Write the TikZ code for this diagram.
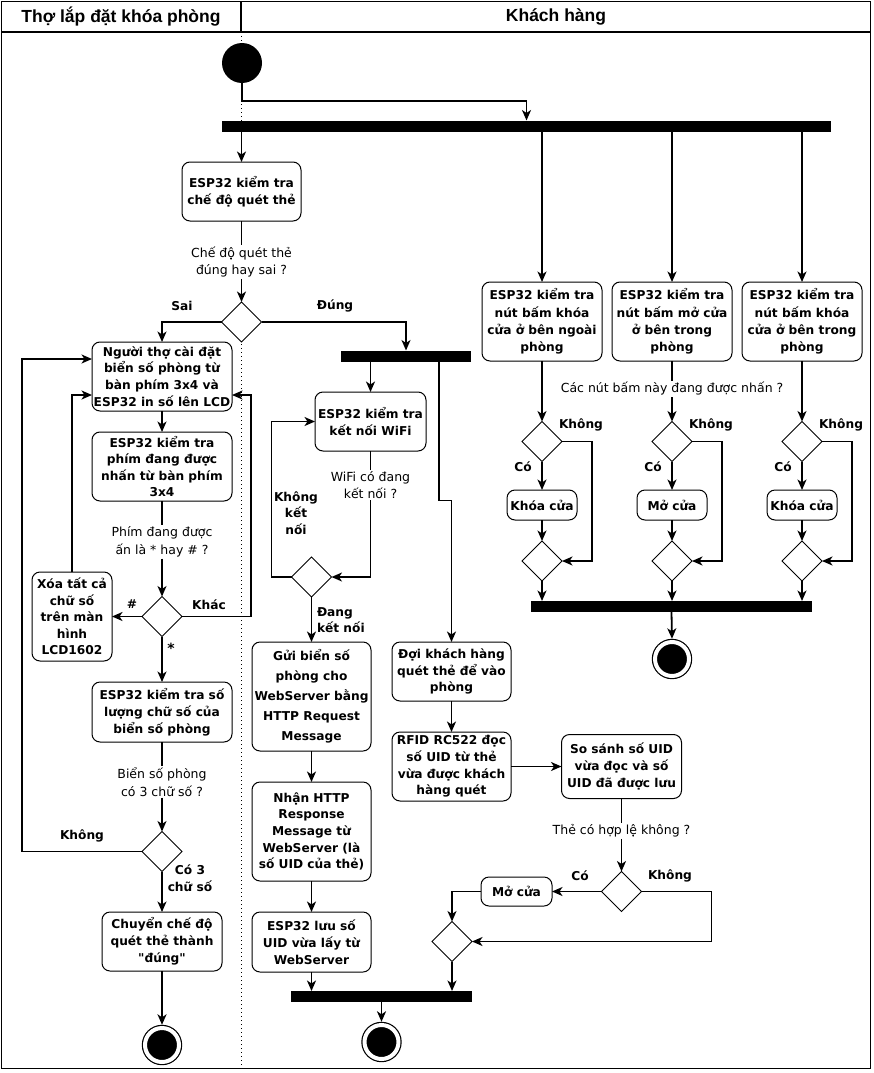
\documentclass[tikz,border=0pt]{standalone}
\usepackage{fontspec}
\setmainfont{DejaVu Sans}[Ligatures=TeXOff]
\newfontfamily\headfont{Liberation Sans}
\usetikzlibrary{shapes.geometric,arrows.meta}

\tikzset{
  every node/.style={inner sep=0pt, outer sep=0pt},
  act/.style={draw, line width=1pt, rounded corners=8pt, fill=white, align=center,
    font=\fontsize{12.2}{16.8}\selectfont\bfseries},
  sz/.style 2 args={minimum width=#1, minimum height=#2},
  dec/.style={diamond, draw, line width=1pt, fill=white, minimum width=40pt, minimum height=40pt},
  bar/.style={fill=black, minimum height=11pt},
  startdot/.style={circle, fill=black, minimum size=40pt},
  finaldot/.style={circle, fill=black, draw=black, double=white, double distance=4pt,
    line width=1.2pt, minimum size=34pt, outer sep=3.2pt},
  cond/.style={fill=white, align=center, font=\fontsize{12.5}{17.5}\selectfont, inner sep=1.5pt},
  elab/.style={font=\fontsize{12.2}{16.5}\selectfont\bfseries, align=center},
  lanehead/.style={font=\headfont\fontsize{17.5}{18}\selectfont\bfseries},
  flow/.style={line width=1.8pt, -{Stealth[length=10.5pt,width=9pt,inset=3pt]}},
  link/.style={line width=1.8pt},
}

\begin{document}
\begin{tikzpicture}[x=1pt,y=-1pt]
\useasboundingbox (0,0) rectangle (873,1073);

% swimlane frame
\draw[line width=1pt, dash pattern=on 1.2pt off 2.8pt] (241,32) -- (241,1068);
\draw[line width=1.5pt] (1.5,1.5) rectangle (870.5,1068.5);
\draw[line width=1.5pt] (1.5,32) -- (870.5,32);
\draw[line width=1.2pt] (241,1.5) -- (241,32);
\node[lanehead] (h1) at (121,17) {Thợ lắp đặt khóa phòng};
\node[lanehead] (h2) at (556,17) {Khách hàng};

% start and first fork
\node[startdot] (start) at (242,63) {};
\node[bar, minimum width=609pt] (bar1) at (526.5,126) {};

% left lane: room number setup
\node[act, sz={119pt}{59pt}] (n1) at (241.5,191.5) {ESP32 kiểm tra\\chế độ quét thẻ};
\node[cond] (q1) at (241.5,262) {Chế độ quét thẻ\\đúng hay sai ?};
\node[dec] (d1) at (241.5,322) {};
\node[elab] (l1) at (182,306) {Sai};
\node[elab] (l2) at (335,306) {Đúng};
\node[bar, minimum width=130pt] (bar2) at (406,356) {};

\node[act, sz={140pt}{69pt}, font=\fontsize{12.2}{16.6}\selectfont\bfseries] (n2) at (162,376.5)
  {Người thợ cài đặt\\biển số phòng từ\\bàn phím 3x4 và\\ESP32 in số lên LCD};
\node[act, sz={140pt}{69pt}, font=\fontsize{12.2}{16.6}\selectfont\bfseries] (n3) at (162,466.5)
  {ESP32 kiểm tra\\phím đang được\\nhấn từ bàn phím\\3x4};
\node[cond] (q2) at (162,542) {Phím đang được\\ấn là * hay \# ?};
\node[dec] (d2) at (162,616.5) {};
\node[act, sz={80pt}{89pt}, font=\fontsize{12.2}{16.5}\selectfont\bfseries] (nx) at (72,616.5)
  {Xóa tất cả\\chữ số\\trên màn\\hình\\LCD1602};
\node[elab] (l3) at (132,604) {\#};
\node[elab] (l4) at (209,605) {Khác};
\node[elab, font=\fontsize{14}{16}\selectfont\bfseries] (l5) at (171,648) {*};
\node[act, sz={140pt}{60pt}] (n4) at (162,712) {ESP32 kiểm tra số\\lượng chữ số của\\biển số phòng};
\node[cond] (q3) at (162,782) {Biển số phòng\\có 3 chữ số ?};
\node[dec] (d3) at (162,851.5) {};
\node[elab] (l6) at (82,836) {Không};
\node[elab] (l7) at (190,878) {Có 3\\chữ số};
\node[act, sz={120pt}{59pt}] (n5) at (162,941.5) {Chuyển chế độ\\quét thẻ thành\\"đúng"};
\node[finaldot] (e1) at (162,1045) {};

% middle: WiFi and server exchange
\node[act, sz={111pt}{59pt}] (n6) at (370.5,421.5) {ESP32 kiểm tra\\kết nối WiFi};
\node[cond] (q4) at (370.5,485) {WiFi có đang\\kết nối ?};
\node[dec] (d4) at (311.5,577) {};
\node[elab] (l8) at (296,513) {Không\\kết\\nối};
\node[elab, anchor=west, align=left] (l9) at (317,620) {Đang\\kết nối};
\node[act, sz={119pt}{109pt}, font=\fontsize{12.2}{20}\selectfont\bfseries] (n7) at (311.5,696.5)
  {Gửi biển số\\phòng cho\\WebServer bằng\\HTTP Request\\Message};
\node[act, sz={119pt}{99pt}, font=\fontsize{12.2}{16.7}\selectfont\bfseries] (n8) at (311.5,831.5)
  {Nhận HTTP\\Response\\Message từ\\WebServer (là\\số UID của thẻ)};
\node[act, sz={119pt}{60pt}] (n9) at (311.5,942) {ESP32 lưu số\\UID vừa lấy từ\\WebServer};
\node[bar, minimum width=181pt] (bar3) at (381.5,996.5) {};
\node[finaldot] (e2) at (381.5,1042) {};

% card scanning
\node[act, sz={119pt}{59pt}] (n10) at (451.5,671.5) {Đợi khách hàng\\quét thẻ để vào\\phòng};
\node[act, sz={119pt}{69pt}, font=\fontsize{12.2}{16.7}\selectfont\bfseries] (n11) at (451.5,766.5)
  {RFID RC522 đọc\\số UID từ thẻ\\vừa được khách\\hàng quét};
\node[act, sz={120pt}{64pt}] (n12) at (621.5,766.5) {So sánh số UID\\vừa đọc và số\\UID đã được lưu};
\node[cond] (q5) at (621.5,831) {Thẻ có hợp lệ không ?};
\node[dec] (d5) at (621.5,891.5) {};
\node[elab] (l10) at (580,876) {Có};
\node[elab] (l11) at (670,876) {Không};
\node[act, sz={71pt}{29pt}] (n13) at (516.5,891.5) {Mở cửa};
\node[dec] (d6) at (452,941.5) {};

% right: door buttons
\node[act, sz={120pt}{79pt}, font=\fontsize{12.2}{17.4}\selectfont\bfseries] (na) at (542,321.5)
  {ESP32 kiểm tra\\nút bấm khóa\\cửa ở bên ngoài\\phòng};
\node[act, sz={120pt}{79pt}, font=\fontsize{12.2}{17.4}\selectfont\bfseries] (nb) at (672,321.5)
  {ESP32 kiểm tra\\nút bấm mở cửa\\ở bên trong\\phòng};
\node[act, sz={120pt}{79pt}, font=\fontsize{12.2}{17.4}\selectfont\bfseries] (nc) at (802,321.5)
  {ESP32 kiểm tra\\nút bấm khóa\\cửa ở bên trong\\phòng};
\node[cond] (q6) at (672,389) {Các nút bấm này đang được nhấn ?};
\node[dec] (da) at (542,441.5) {};
\node[dec] (db) at (672,441.5) {};
\node[dec] (dc) at (802,441.5) {};
\node[elab] (la1) at (581,425) {Không};
\node[elab] (lb1) at (711,425) {Không};
\node[elab] (lc1) at (841,425) {Không};
\node[elab] (la2) at (523,467) {Có};
\node[elab] (lb2) at (653,467) {Có};
\node[elab] (lc2) at (783,467) {Có};
\node[act, sz={70pt}{30pt}] (aa) at (542,505) {Khóa cửa};
\node[act, sz={70pt}{30pt}] (ab) at (672,505) {Mở cửa};
\node[act, sz={70pt}{30pt}] (ac) at (802,505) {Khóa cửa};
\node[dec] (ma) at (542,561) {};
\node[dec] (mb) at (672,561) {};
\node[dec] (mc) at (802,561) {};
\node[bar, minimum width=281pt] (bar4) at (671.5,606.5) {};
\node[finaldot] (e3) at (672,659) {};

% connectors: start and fork
\draw[flow] (start.south) -- ++(0,18) -| (bar1.north);
\draw[flow] (n1.north |- bar1.south) -- (n1.north);
\draw[flow] (na.north |- bar1.south) -- (na.north);
\draw[flow] (nb.north |- bar1.south) -- (nb.north);
\draw[flow] (nc.north |- bar1.south) -- (nc.north);

% left lane flow
\draw[link] (n1.south) -- (q1.north);
\draw[flow] (q1.south) -- (d1.north);
\draw[flow] (d1.west) -| (n2.north);
\draw[flow] (d1.east) -| (bar2.north);
\draw[flow] (n2.south) -- (n3.north);
\draw[link] (n3.south) -- (q2.north);
\draw[flow] (q2.south) -- (d2.north);
\draw[flow] (d2.west) -- (nx.east);
\draw[flow] (nx.north) |- ([yshift=-18.5pt]n2.west);
\draw[flow] (d2.east) -- ++(69,0) |- ([yshift=-18.5pt]n2.east);
\draw[flow] (d2.south) -- (n4.north);
\draw[link] (n4.south) -- (q3.north);
\draw[flow] (q3.south) -- (d3.north);
\draw[flow] (d3.west) -- ++(-120,0) |- ([yshift=17.5pt]n2.west);
\draw[flow] (d3.south) -- (n5.north);
\draw[flow] (n5.south) -- (e1.north);

% WiFi branch
\draw[flow] (n6.north |- bar2.south) -- (n6.north);
\draw[link] (n6.south) -- (q4.north);
\draw[flow] (q4.south) |- (d4.east);
\draw[flow] (d4.west) -- ++(-20,0) |- (n6.west);
\draw[flow] (d4.south) -- (n7.north);
\draw[flow] (n7.south) -- (n8.north);
\draw[flow] (n8.south) -- (n9.north);
\draw[flow] (n9.south) -- (n9.south |- bar3.north);
\draw[flow] (bar3.south) -- (e2.north);

% card branch
\draw[flow] ([xshift=33pt]bar2.south) -- ++(0,139) -| (n10.north);
\draw[flow] (n10.south) -- (n11.north);
\draw[flow] (n11.east) -- (n12.west);
\draw[link] (n12.south) -- (q5.north);
\draw[flow] (q5.south) -- (d5.north);
\draw[flow] (d5.west) -- (n13.east);
\draw[flow] (n13.west) -| (d6.north);
\draw[flow] (d5.east) -- ++(70,0) |- (d6.east);
\draw[flow] (d6.south) -- (d6.south |- bar3.north);

% door button branches
\draw[flow] (na.south) -- (da.north);
\draw[link] (nb.south) -- (q6.north);
\draw[flow] (q6.south) -- (db.north);
\draw[flow] (nc.south) -- (dc.north);
\draw[flow] (da.south) -- (aa.north);
\draw[flow] (db.south) -- (ab.north);
\draw[flow] (dc.south) -- (ac.north);
\draw[flow] (aa.south) -- (ma.north);
\draw[flow] (ab.south) -- (mb.north);
\draw[flow] (ac.south) -- (mc.north);
\draw[flow] (da.east) -- ++(30,0) |- (ma.east);
\draw[flow] (db.east) -- ++(30,0) |- (mb.east);
\draw[flow] (dc.east) -- ++(30,0) |- (mc.east);
\draw[flow] (ma.south) -- (ma.south |- bar4.north);
\draw[flow] (mb.south) -- (mb.south |- bar4.north);
\draw[flow] (mc.south) -- (mc.south |- bar4.north);
\draw[flow] (bar4.south) -- (e3.north);
\end{tikzpicture}
\end{document}
